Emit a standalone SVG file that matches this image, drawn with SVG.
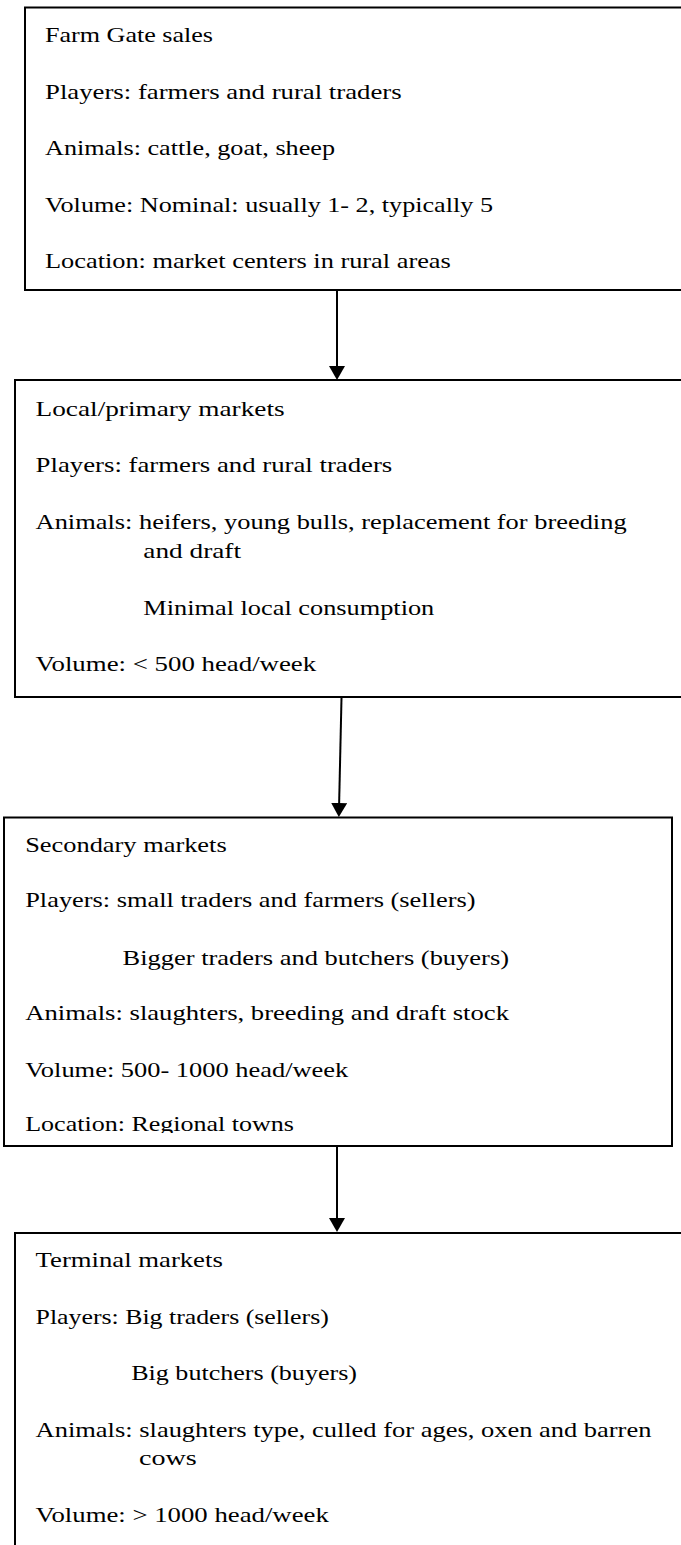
<svg xmlns="http://www.w3.org/2000/svg" width="681" height="1545" viewBox="0 0 681 1545">
<style>
.box{fill:#fff;stroke:#000;stroke-width:2}
.t{font-family:"Liberation Serif","Times New Roman",serif;font-size:22px;fill:#000}
.conn{stroke:#000;stroke-width:2;fill:none}
</style>
<defs>
<marker id="ah" markerUnits="userSpaceOnUse" viewBox="0 0 14 16" refX="2" refY="8" markerWidth="14" markerHeight="16" orient="auto">
<path d="M0,0 L14,8 L0,16 z" fill="#000"/>
</marker>
<clipPath id="c3"><rect x="0" y="817" width="681" height="316"/></clipPath>
</defs>
<rect width="681" height="1545" fill="#fff"/>
<g id="n1">
<rect class="box" x="25" y="7.5" width="700" height="282.5"/>
<text class="t" x="45" y="41.5" textLength="168" lengthAdjust="spacingAndGlyphs">Farm Gate sales</text>
<text class="t" x="45" y="98.5" textLength="356.7" lengthAdjust="spacingAndGlyphs">Players: farmers and rural traders</text>
<text class="t" x="45" y="155" textLength="290" lengthAdjust="spacingAndGlyphs">Animals: cattle, goat, sheep</text>
<text class="t" x="45" y="211.5" textLength="448" lengthAdjust="spacingAndGlyphs">Volume: Nominal: usually 1- 2, typically 5</text>
<text class="t" x="45" y="268" textLength="405.8" lengthAdjust="spacingAndGlyphs">Location: market centers in rural areas</text>
</g>
<g id="n2">
<rect class="box" x="15" y="380" width="700" height="317"/>
<text class="t" x="35.6" y="416" textLength="249" lengthAdjust="spacingAndGlyphs">Local/primary markets</text>
<text class="t" x="35.6" y="471.7" textLength="356.7" lengthAdjust="spacingAndGlyphs">Players: farmers and rural traders</text>
<text class="t" x="35.6" y="529.3" textLength="591" lengthAdjust="spacingAndGlyphs">Animals: heifers, young bulls, replacement for breeding</text>
<text class="t" x="143.3" y="558.3" textLength="97.7" lengthAdjust="spacingAndGlyphs">and draft</text>
<text class="t" x="143.3" y="615" textLength="291" lengthAdjust="spacingAndGlyphs">Minimal local consumption</text>
<text class="t" x="35.6" y="670.7" textLength="280.6" lengthAdjust="spacingAndGlyphs">Volume: &lt; 500 head/week</text>
</g>
<g id="n3">
<rect class="box" x="4" y="817.5" width="668" height="328.5"/>
<g clip-path="url(#c3)">
<text class="t" x="25.2" y="851.7" textLength="201.5" lengthAdjust="spacingAndGlyphs">Secondary markets</text>
<text class="t" x="25.2" y="907.3" textLength="450.3" lengthAdjust="spacingAndGlyphs">Players: small traders and farmers (sellers)</text>
<text class="t" x="122.5" y="965" textLength="386.5" lengthAdjust="spacingAndGlyphs">Bigger traders and butchers (buyers)</text>
<text class="t" x="25.2" y="1020" textLength="483.8" lengthAdjust="spacingAndGlyphs">Animals: slaughters, breeding and draft stock</text>
<text class="t" x="25.2" y="1076.7" textLength="323.1" lengthAdjust="spacingAndGlyphs">Volume: 500- 1000 head/week</text>
<text class="t" x="25.2" y="1131" textLength="268.8" lengthAdjust="spacingAndGlyphs">Location: Regional towns</text>
</g>
</g>
<g id="n4">
<rect class="box" x="15" y="1233" width="700" height="400"/>
<text class="t" x="35.6" y="1266.7" textLength="187.2" lengthAdjust="spacingAndGlyphs">Terminal markets</text>
<text class="t" x="35.6" y="1324" textLength="293.2" lengthAdjust="spacingAndGlyphs">Players: Big traders (sellers)</text>
<text class="t" x="131.2" y="1380" textLength="225.8" lengthAdjust="spacingAndGlyphs">Big butchers (buyers)</text>
<text class="t" x="35.6" y="1436.7" textLength="615.8" lengthAdjust="spacingAndGlyphs">Animals: slaughters type, culled for ages, oxen and barren</text>
<text class="t" x="139" y="1465" textLength="57.7" lengthAdjust="spacingAndGlyphs">cows</text>
<text class="t" x="35.6" y="1521.7" textLength="293.2" lengthAdjust="spacingAndGlyphs">Volume: &gt; 1000 head/week</text>
</g>
<g id="connectors">
<line class="conn" x1="337" y1="291" x2="337" y2="368" marker-end="url(#ah)"/>
<line class="conn" x1="341.5" y1="698" x2="339.1" y2="805" marker-end="url(#ah)"/>
<line class="conn" x1="337" y1="1147" x2="337" y2="1220" marker-end="url(#ah)"/>
</g>
</svg>
